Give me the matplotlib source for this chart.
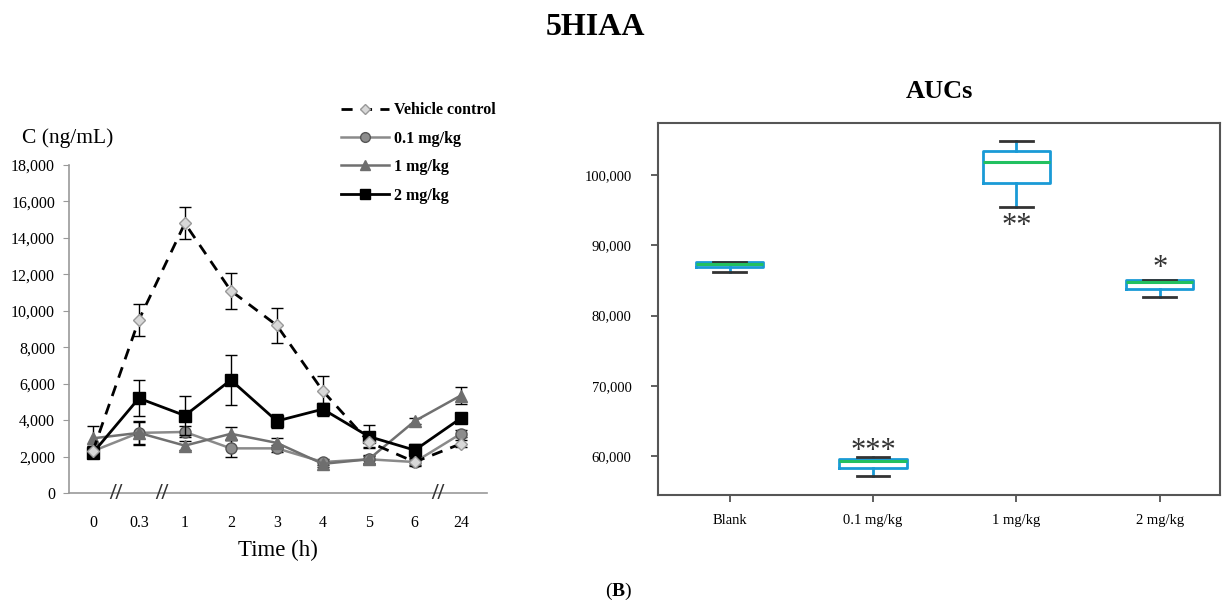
import numpy as np
import matplotlib
matplotlib.use('Agg')
import matplotlib.pyplot as plt
from matplotlib.lines import Line2D

plt.rcParams['font.family'] = ['Liberation Serif', 'DejaVu Serif']

# time course data
timeLabels = ['0', '0.3', '1', '2', '3', '4', '5', '6', '24']
vehicle = [2300, 9500, 14800, 11100, 9200, 5600, 2800, 1700, 2700]
vehicleErr = [300, 880, 870, 980, 950, 800, 300, 200, 200]
dose01 = [2300, 3300, 3350, 2450, 2450, 1700, 1850, 1700, 3250]
dose01Err = [300, 650, 300, 450, 200, 150, 200, 150, 200]
dose1 = [3000, 3300, 2600, 3250, 2750, 1600, 1850, 3950, 5350]
dose1Err = [650, 600, 250, 350, 250, 150, 250, 150, 450]
dose2 = [2200, 5200, 4250, 6200, 3950, 4600, 3100, 2350, 4100]
dose2Err = [300, 1000, 1050, 1350, 400, 350, 650, 350, 150]

# AUC box data
groups = ['Blank', '0.1 mg/kg', '1 mg/kg', '2 mg/kg']
aucMed = [87300, 59350, 101900, 84800]
aucQ1 = [86950, 58350, 98800, 83800]
aucQ3 = [87550, 59600, 103400, 85050]
aucLo = [86250, 57100, 95450, 82600]
aucHi = [87550, 59800, 104800, 85000]
stars = ['', '***', '**', '*']
starY = [0, 60700, 92700, 86700]

fig = plt.figure(figsize=(12.23, 6.1), dpi=100)

# ---- left: concentration vs time
ax = fig.add_axes([0.0564, 0.1918, 0.3418, 0.5377])
x = np.arange(len(timeLabels))

ax.errorbar(x, dose01, yerr=dose01Err, color='#8a8a8a', linewidth=1.8, marker='o',
            markersize=8, markerfacecolor='#8c8c8c', markeredgecolor='#555555',
            ecolor='black', elinewidth=1, capsize=4, zorder=3)
ax.errorbar(x, dose1, yerr=dose1Err, color='#707070', linewidth=1.8, marker='^',
            markersize=8, markerfacecolor='#6e6e6e', markeredgecolor='#6e6e6e',
            ecolor='black', elinewidth=1, capsize=4, zorder=3)
ax.errorbar(x, dose2, yerr=dose2Err, color='black', linewidth=2, marker='s',
            markersize=8, markerfacecolor='black', markeredgecolor='black',
            ecolor='black', elinewidth=1, capsize=4, zorder=4)
ax.errorbar(x, vehicle, yerr=vehicleErr, color='black', linewidth=2, linestyle=(0, (4, 3)),
            marker='D', markersize=6, markerfacecolor='#d8d8d8', markeredgecolor='#999999',
            ecolor='black', elinewidth=1, capsize=4, zorder=5)

ax.set_xlim(-0.52, 8.57)
ax.set_ylim(0, 18000)
ax.set_yticks(np.arange(0, 18001, 2000))
ax.set_yticklabels([f'{v:,}' for v in range(0, 18001, 2000)], fontsize=11.5)
ax.set_xticks(x)
ax.set_xticklabels(timeLabels, fontsize=11.5)
ax.tick_params(axis='x', length=0, pad=16)
ax.tick_params(axis='y', length=4, color='#999999', pad=6)
for s in ['top', 'right']:
    ax.spines[s].set_visible(False)
for s in ['left', 'bottom']:
    ax.spines[s].set_color('#999999')
    ax.spines[s].set_linewidth(1.2)

# axis break marks
for bx in [0.5, 1.5, 7.5]:
    ax.text(bx, 0, '//', ha='center', va='center', fontsize=17, fontweight='bold',
            color='#333333', clip_on=False)

fig.text(0.018, 0.765, 'C (ng/mL)', fontsize=15.5)
ax.set_xlabel('Time (h)', fontsize=16.5, labelpad=6)

handles = [
    Line2D([], [], color='black', linewidth=2, linestyle=(0, (4, 3)), marker='D', markersize=5,
           markerfacecolor='#d8d8d8', markeredgecolor='#999999'),
    Line2D([], [], color='#8a8a8a', linewidth=1.8, marker='o', markersize=7,
           markerfacecolor='#8c8c8c', markeredgecolor='#555555'),
    Line2D([], [], color='#707070', linewidth=1.8, marker='^', markersize=7,
           markerfacecolor='#6e6e6e', markeredgecolor='#6e6e6e'),
    Line2D([], [], color='black', linewidth=2, marker='s', markersize=7,
           markerfacecolor='black', markeredgecolor='black'),
]
fig.legend(handles, ['Vehicle control', '0.1 mg/kg', '1 mg/kg', '2 mg/kg'],
           loc='upper left', bbox_to_anchor=(0.274, 0.843), frameon=False,
           prop={'size': 11.5, 'weight': 'bold'}, handlelength=3.0, handletextpad=0.3,
           labelspacing=0.78, borderaxespad=0)

# ---- right: AUC boxes
bx = fig.add_axes([0.538, 0.1885, 0.4595, 0.6098])
stats = []
for i in range(len(groups)):
    stats.append({'med': aucMed[i], 'q1': aucQ1[i], 'q3': aucQ3[i],
                  'whislo': aucLo[i], 'whishi': aucHi[i], 'label': groups[i]})
bx.bxp(stats, positions=range(len(groups)), widths=0.47, showfliers=False,
       boxprops=dict(color='#1a9ad6', linewidth=2),
       whiskerprops=dict(color='#1a9ad6', linewidth=2),
       capprops=dict(color='#333333', linewidth=2),
       medianprops=dict(color='#22c060', linewidth=2.2),
       capwidths=0.23)
bx.set_xlim(-0.5, 3.42)
bx.set_ylim(54450, 107400)
bx.set_yticks([60000, 70000, 80000, 90000, 100000])
bx.set_yticklabels([f'{v:,}' for v in [60000, 70000, 80000, 90000, 100000]], fontsize=10.5)
bx.set_xticks(range(len(groups)))
bx.set_xticklabels(groups, fontsize=10.5)
bx.tick_params(axis='both', length=5, color='#444444', width=1.2)
bx.tick_params(axis='x', pad=9)
bx.tick_params(axis='y', pad=14)
for s in bx.spines.values():
    s.set_color('#555555')
    s.set_linewidth(1.5)
for i, st in enumerate(stars):
    if st:
        bx.text(i, starY[i], st, ha='center', va='center', fontsize=22, color='#333333')
bx.set_title('AUCs', fontsize=19, fontweight='bold', pad=18)

fig.text(0.487, 0.955, '5HIAA', ha='center', va='center', fontsize=23, fontweight='bold')
fig.text(0.5, 0.03, '(', ha='right', va='center', fontsize=14)
fig.text(0.5, 0.03, 'B', ha='left', va='center', fontsize=14, fontweight='bold')
fig.text(0.5105, 0.03, ')', ha='left', va='center', fontsize=14)

fig.savefig('out.png', dpi=100)
